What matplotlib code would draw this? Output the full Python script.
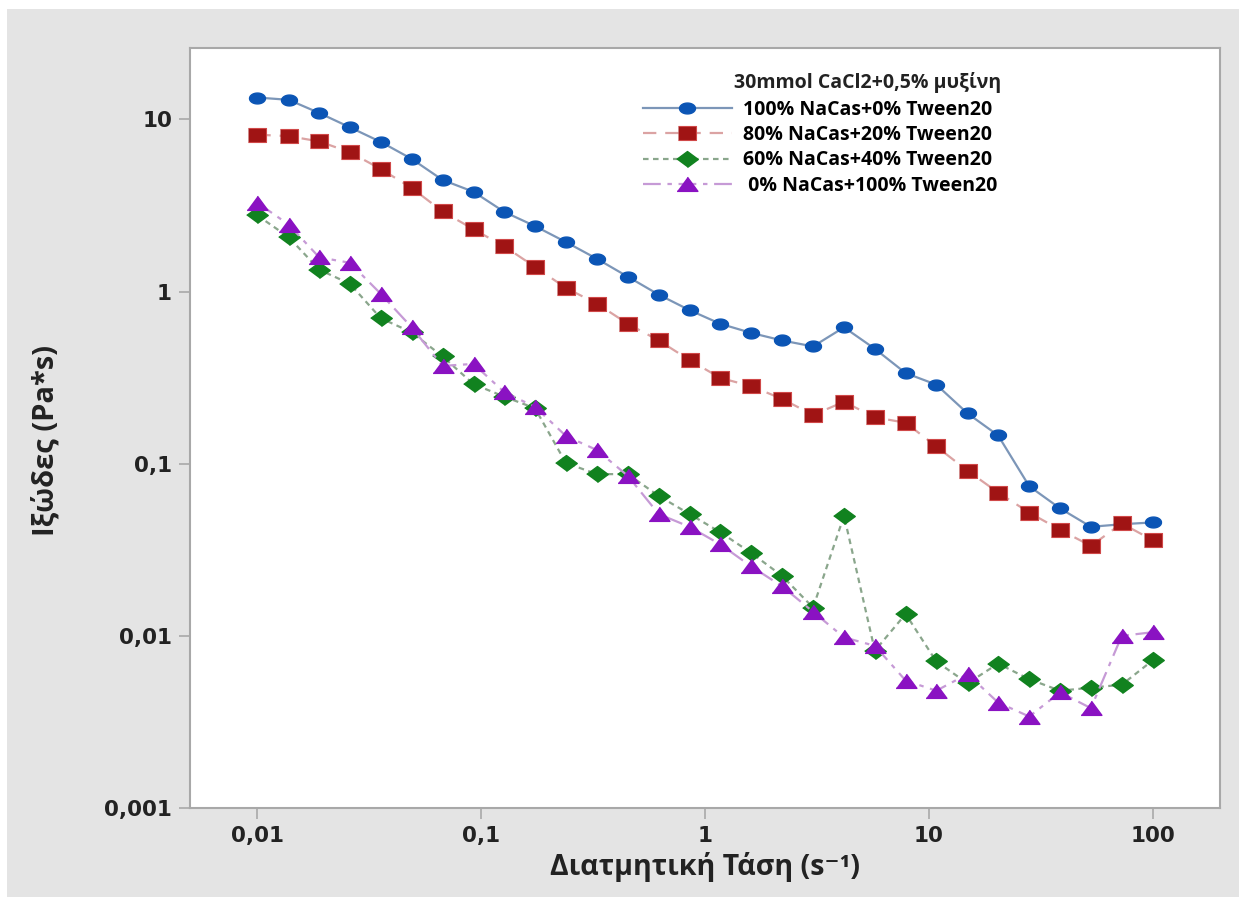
import numpy as np
import matplotlib.pyplot as plt
from matplotlib.patches import Rectangle

# Shear rate (s^-1), 30 points per curve
shear = [0.01, 0.0138, 0.0189, 0.0259, 0.0356, 0.0489, 0.0672, 0.0924, 0.127, 0.174,
         0.239, 0.329, 0.452, 0.621, 0.853, 1.17, 1.61, 2.21, 3.04, 4.18,
         5.74, 7.88, 10.8, 14.9, 20.4, 28.1, 38.6, 53.0, 72.8, 100.0]

# Viscosity (Pa*s)
nacas100 = [13.4, 13.0, 10.9, 9.0, 7.4, 5.9, 4.45, 3.8, 2.9, 2.4,
            1.94, 1.55, 1.22, 0.96, 0.78, 0.65, 0.575, 0.52, 0.48, 0.62,
            0.465, 0.336, 0.288, 0.196, 0.146, 0.074, 0.055, 0.043, 0.0445, 0.0456]
nacas80 = [8.15, 8.0, 7.45, 6.45, 5.15, 4.0, 2.92, 2.3, 1.83, 1.39,
           1.05, 0.85, 0.65, 0.52, 0.40, 0.315, 0.282, 0.238, 0.192, 0.229,
           0.186, 0.173, 0.126, 0.091, 0.068, 0.052, 0.0413, 0.0333, 0.045, 0.036]
nacas60 = [2.77, 2.07, 1.34, 1.11, 0.70, 0.58, 0.42, 0.29, 0.245, 0.21,
           0.101, 0.087, 0.087, 0.065, 0.051, 0.040, 0.0303, 0.0223, 0.0146, 0.0499,
           0.0082, 0.0134, 0.0071, 0.0053, 0.0069, 0.0056, 0.0048, 0.0050, 0.0052, 0.0072]
nacas0 = [3.28, 2.45, 1.58, 1.47, 0.97, 0.62, 0.37, 0.38, 0.26, 0.214,
          0.145, 0.12, 0.085, 0.051, 0.043, 0.034, 0.0253, 0.0194, 0.0138, 0.0098,
          0.00875, 0.0055, 0.0048, 0.006, 0.0041, 0.0034, 0.0047, 0.0038, 0.0100, 0.0105]

labels = ["100% NaCas+0% Tween20", "80% NaCas+20% Tween20",
          "60% NaCas+40% Tween20", " 0% NaCas+100% Tween20"]
legend_title = "30mmol CaCl2+0,5% μυξίνη"

# slightly wide markers (the source image is stretched sideways)
t = np.linspace(0, 2 * np.pi, 40)
m_circle = list(zip(np.cos(t), 0.68 * np.sin(t)))
m_square = [(-1, -0.74), (1, -0.74), (1, 0.74), (-1, 0.74)]
m_diamond = [(-1, 0), (0, 0.74), (1, 0), (0, -0.74)]
m_triangle = [(-1, -0.66), (1, -0.66), (0, 0.7)]

fig = plt.figure(figsize=(12.39, 8.97), dpi=100)
fig.patch.set_facecolor("white")
fig.patches.append(Rectangle((7 / 1239, 0), 1, (897 - 9) / 897, transform=fig.transFigure,
                             facecolor="#e4e4e4", edgecolor="none", zorder=-10))

ax = fig.add_axes([190 / 1239, 89 / 897, 1030 / 1239, 760 / 897])
ax.set_facecolor("white")

ax.plot(shear, nacas100, color="#7c96b8", lw=1.6, ls="-",
        marker=m_circle, ms=11.5, mfc="#0b55b5", mec="#0b55b5", label=labels[0])
ax.plot(shear, nacas80, color="#dba3a3", lw=1.6, ls=(0, (6, 4)),
        marker=m_square, ms=13, mfc="#a01414", mec="#d04848", mew=0.8, label=labels[1])
ax.plot(shear, nacas60, color="#8aa68c", lw=1.6, ls=(0, (2.5, 2)),
        marker=m_diamond, ms=15.5, mfc="#11821f", mec="#11821f", label=labels[2])
ax.plot(shear, nacas0, color="#c69ad6", lw=1.6, ls=(0, (8, 3, 2, 3)),
        marker=m_triangle, ms=15, mfc="#8a12c2", mec="#8a12c2", label=labels[3])

ax.set_xscale("log")
ax.set_yscale("log")
ax.set_xlim(0.005, 200)
ax.set_ylim(0.001, 26)

xt = [0.01, 0.1, 1, 10, 100]
yt = [0.001, 0.01, 0.1, 1, 10]
ax.set_xticks(xt)
ax.set_xticklabels(["0,01", "0,1", "1", "10", "100"])
ax.set_yticks(yt)
ax.set_yticklabels(["0,001", "0,01", "0,1", "1", "10"])
ax.minorticks_off()
ax.tick_params(axis="both", which="major", direction="out", length=8, width=1.2,
               color="#a8a8a8", labelsize=15.5, pad=5)
for lab in ax.get_xticklabels() + ax.get_yticklabels():
    lab.set_fontweight("bold")
    lab.set_color("#222222")

for sp in ax.spines.values():
    sp.set_color("#a8a8a8")
    sp.set_linewidth(1.5)

ax.set_xlabel("Διατμητική Τάση (s⁻¹)", fontsize=20.5, fontweight="bold",
              family=["Open Sans", "DejaVu Sans"], color="#222222")
ax.set_ylabel("Ιξώδες (Pa*s)", fontsize=21, fontweight="bold",
              family=["Open Sans", "DejaVu Sans"], color="#222222")
ax.xaxis.set_label_coords(0.5, -0.058)
ax.yaxis.set_label_coords(-0.126, 0.483)

leg = ax.legend(loc="upper left", bbox_to_anchor=(0.43, 0.945), frameon=False,
                prop={"family": "Open Sans", "weight": "bold", "size": 14},
                handlelength=4.6, handletextpad=0.55, labelspacing=0.28, borderpad=0)
ax.text(0.528, 0.955, legend_title, transform=ax.transAxes, ha="left", va="center",
        fontsize=14, fontweight="bold", family="Open Sans", color="#222222")

fig.savefig("out.png", dpi=100)
